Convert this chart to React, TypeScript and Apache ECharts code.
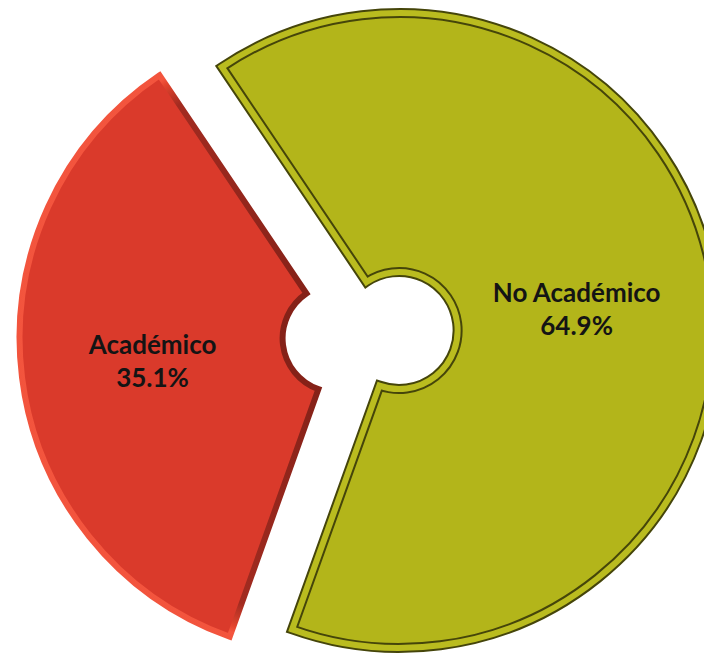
import React, { useEffect, useRef } from "react";
import * as echarts from "echarts";

const categories: string[] = ["Académico", "No Académico"];
const values: number[] = [35.1, 64.9];
const fillColors: string[] = ["#DA3A2B", "#B3B51A"];

const CENTER: [number, number] = [367.85, 334.4];
const START_ANGLE = 250.3;
const OFFSET = 31.5;

export default function App() {
  const ref = useRef<HTMLDivElement>(null);

  useEffect(() => {
    if (!ref.current) return;
    const chart = echarts.init(ref.current, undefined, { renderer: "svg" });

    const labelFormatter = (p: any) =>
      p.name ? `${p.name}\n${Number(p.value).toFixed(1)}%` : "";

    const labelStyle = {
      show: true,
      position: "inside",
      formatter: labelFormatter,
      fontFamily: "Lato",
      fontWeight: "bold",
      fontSize: 26,
      lineHeight: 33,
      color: "#141414",
    };

    const redBevel = new echarts.graphic.RadialGradient(
      CENTER[0],
      CENTER[1],
      320,
      [
        { offset: 0, color: "#7E1F16" },
        { offset: 0.88, color: "#A22B20" },
        { offset: 0.955, color: "#E3442E" },
        { offset: 0.975, color: "#F4553E" },
        { offset: 1, color: "#F2543D" },
      ],
      true
    );

    const common = {
      type: "pie",
      center: CENTER,
      startAngle: START_ANGLE,
      clockwise: true,
      selectedMode: "multiple",
      selectedOffset: OFFSET,
      avoidLabelOverlap: false,
      silent: true,
      labelLine: { show: false },
      emphasis: { disabled: true },
    };

    const hidden = (i: number) => ({
      name: "",
      value: values[i],
      itemStyle: { color: "rgba(0,0,0,0)", borderWidth: 0 },
      label: { show: false },
    });

    chart.setOption({
      animation: false,
      series: [
        {
          ...common,
          id: "red",
          radius: [54, 317],
          label: labelStyle,
          labelLayout: { dx: 3, dy: -1 },
          data: [
            {
              name: categories[0],
              value: values[0],
              selected: true,
              itemStyle: {
                color: fillColors[0],
                borderColor: redBevel,
                borderWidth: 6,
                borderJoin: "miter",
              },
            },
            hidden(1),
          ],
        },
        {
          ...common,
          id: "oliveBase",
          radius: [58.5, 317.5],
          label: labelStyle,
          labelLayout: { dx: -12, dy: 2 },
          data: [
            hidden(0),
            {
              name: categories[1],
              value: values[1],
              selected: true,
              itemStyle: {
                color: fillColors[1],
                borderColor: "#45450A",
                borderWidth: 10,
                borderJoin: "miter",
              },
            },
          ],
        },
        {
          ...common,
          id: "oliveBand",
          radius: [58.5, 317.5],
          label: { show: false },
          data: [
            hidden(0),
            {
              name: "",
              value: values[1],
              selected: true,
              itemStyle: {
                color: "rgba(0,0,0,0)",
                borderColor: "#BABC1F",
                borderWidth: 6,
                borderJoin: "miter",
              },
            },
          ],
        },
      ],
    });

    return () => chart.dispose();
  }, []);

  return (
    <div
      ref={ref}
      style={{ position: "fixed", left: 0, top: 0, width: 704, height: 655, background: "#ffffff" }}
    />
  );
}
